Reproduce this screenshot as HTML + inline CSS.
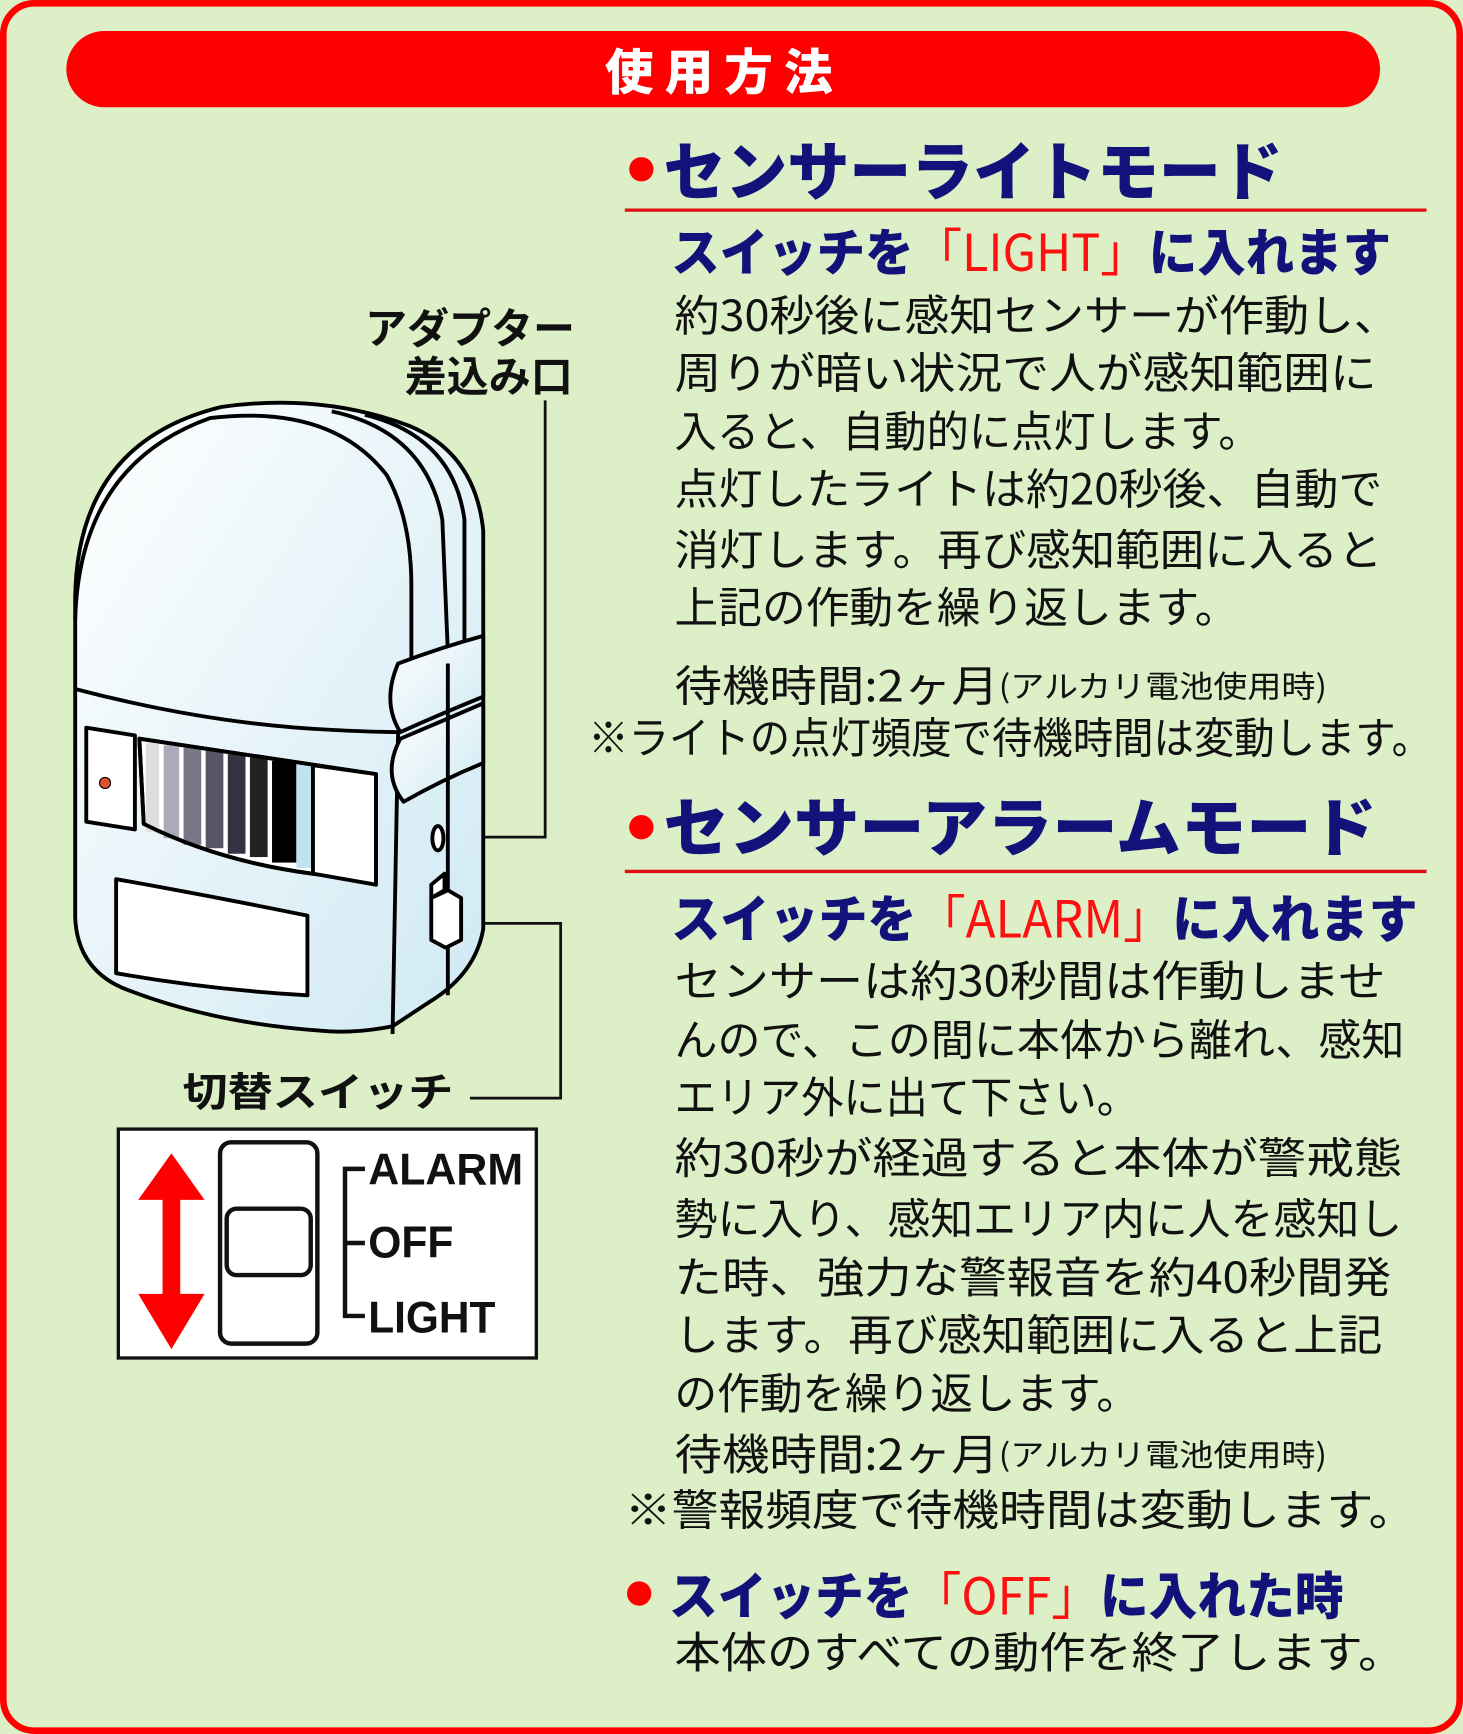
<!DOCTYPE html>
<html><head><meta charset="utf-8"><style>
html,body{margin:0;padding:0;background:#dcefc6;}
svg{display:block}
text{font-family:"Liberation Sans","Noto Sans CJK JP",sans-serif;dominant-baseline:central}
.b{font-family:"Noto Sans CJK JP","Liberation Sans",sans-serif;fill:#111;font-size:39px}
.h{font-family:"Noto Sans CJK JP",sans-serif;font-weight:900;fill:#12127a;font-size:58px}
.s{font-family:"Noto Sans CJK JP",sans-serif;font-weight:900;fill:#12127a;font-size:46px}
.r{fill:#ff1010}
</style></head><body>
<svg width="1463" height="1734" viewBox="0 0 1323 1568" xmlns="http://www.w3.org/2000/svg">
<defs>
<linearGradient id="g" x1="0" y1="0" x2="1" y2="1"><stop offset="0" stop-color="#ffffff"/><stop offset="1" stop-color="#cfe9f3"/></linearGradient>
<linearGradient id="st" x1="0" x2="1"><stop offset="0" stop-color="#fff"/><stop offset="0.5" stop-color="#667"/><stop offset="1" stop-color="#000"/></linearGradient>
</defs>
<rect x="3" y="3" width="1317" height="1562" rx="28" fill="#dcefc6" stroke="#ff0000" stroke-width="6"/>
<rect x="60" y="28" width="1188" height="69" rx="34.5" fill="#ff0000"/>
<text x="655" y="63" text-anchor="middle" style="font-family:'Noto Sans CJK JP',sans-serif;font-weight:900;font-size:44px;fill:#fff;letter-spacing:10px">使用方法</text>

<circle cx="580" cy="153" r="11" fill="#ff0000"/>
<text class="h" x="600" y="152" textLength="560" lengthAdjust="spacingAndGlyphs">センサーライトモード</text>
<line x1="565" y1="190" x2="1290" y2="190" stroke="#e01010" stroke-width="3"/>
<text class="s" x="607" y="225" textLength="651" lengthAdjust="spacingAndGlyphs">スイッチを<tspan class="r" style="font-weight:400">「LIGHT」</tspan>に入れます</text>
<text class="b" x="610" y="283" textLength="655" lengthAdjust="spacingAndGlyphs">約30秒後に感知センサーが作動し、</text>
<text class="b" x="610" y="335" textLength="635" lengthAdjust="spacingAndGlyphs">周りが暗い状況で人が感知範囲に</text>
<text class="b" x="610" y="388" textLength="530" lengthAdjust="spacingAndGlyphs">入ると、自動的に点灯します。</text>
<text class="b" x="610" y="440" textLength="640" lengthAdjust="spacingAndGlyphs">点灯したライトは約20秒後、自動で</text>
<text class="b" x="610" y="495" textLength="640" lengthAdjust="spacingAndGlyphs">消灯します。再び感知範囲に入ると</text>
<text class="b" x="610" y="547" textLength="510" lengthAdjust="spacingAndGlyphs">上記の作動を繰り返します。</text>
<text class="b" x="610" y="618" textLength="590" lengthAdjust="spacingAndGlyphs">待機時間:2ヶ月<tspan style="font-size:28px">(アルカリ電池使用時)</tspan></text>
<text class="b" x="532" y="665" textLength="763" lengthAdjust="spacingAndGlyphs">※ライトの点灯頻度で待機時間は変動します。</text>

<circle cx="580" cy="748" r="11" fill="#ff0000"/>
<text class="h" x="600" y="745" textLength="645" lengthAdjust="spacingAndGlyphs">センサーアラームモード</text>
<line x1="565" y1="788" x2="1290" y2="788" stroke="#e01010" stroke-width="3"/>
<text class="s" x="607" y="828" textLength="675" lengthAdjust="spacingAndGlyphs">スイッチを<tspan class="r" style="font-weight:400">「ALARM」</tspan>に入れます</text>
<text class="b" x="610" y="885" textLength="643" lengthAdjust="spacingAndGlyphs">センサーは約30秒間は作動しませ</text>
<text class="b" x="610" y="938" textLength="660" lengthAdjust="spacingAndGlyphs">んので、この間に本体から離れ、感知</text>
<text class="b" x="610" y="990" textLength="420" lengthAdjust="spacingAndGlyphs">エリア外に出て下さい。</text>
<text class="b" x="610" y="1045" textLength="658" lengthAdjust="spacingAndGlyphs">約30秒が経過すると本体が警戒態</text>
<text class="b" x="610" y="1100" textLength="658" lengthAdjust="spacingAndGlyphs">勢に入り、感知エリア内に人を感知し</text>
<text class="b" x="610" y="1153" textLength="648" lengthAdjust="spacingAndGlyphs">た時、強力な警報音を約40秒間発</text>
<text class="b" x="610" y="1205" textLength="640" lengthAdjust="spacingAndGlyphs">します。再び感知範囲に入ると上記</text>
<text class="b" x="610" y="1258" textLength="420" lengthAdjust="spacingAndGlyphs">の作動を繰り返します。</text>
<text class="b" x="610" y="1313" textLength="590" lengthAdjust="spacingAndGlyphs">待機時間:2ヶ月<tspan style="font-size:28px">(アルカリ電池使用時)</tspan></text>
<text class="b" x="565" y="1363" textLength="715" lengthAdjust="spacingAndGlyphs">※警報頻度で待機時間は変動します。</text>

<circle cx="578" cy="1441" r="11" fill="#ff0000"/>
<text class="s" x="605" y="1440" textLength="610" lengthAdjust="spacingAndGlyphs">スイッチを<tspan class="r" style="font-weight:400">「OFF」</tspan>に入れた時</text>
<text class="b" x="610" y="1492" textLength="660" lengthAdjust="spacingAndGlyphs">本体のすべての動作を終了します。</text>

<!-- labels -->
<text x="520" y="295" text-anchor="end" style="font-family:'Noto Sans CJK JP',sans-serif;font-weight:700;font-size:38px;fill:#111">アダプター</text>
<text x="518" y="338" text-anchor="end" style="font-family:'Noto Sans CJK JP',sans-serif;font-weight:700;font-size:38px;fill:#111">差込み口</text>
<text x="165" y="985" style="font-family:'Noto Sans CJK JP',sans-serif;font-weight:700;font-size:36px;fill:#111" textLength="245" lengthAdjust="spacingAndGlyphs">切替スイッチ</text>
<polyline points="493,362 493,757 400,757" fill="none" stroke="#111" stroke-width="2.5"/>
<polyline points="420,835 507,835 507,993 425,993" fill="none" stroke="#111" stroke-width="2.5"/>

<!-- device -->
<g stroke="#000" stroke-width="3.5" fill="url(#g)" stroke-linejoin="round">
<path d="M68,540 Q70,400 200,368 Q290,355 370,385 Q430,410 437,480 L437,840 Q430,880 390,905 L355,928 Q320,935 290,932 Q190,925 110,893 Q70,875 68,830 Z"/>
<path d="M68,560 Q72,420 190,378 Q300,365 350,430 Q372,470 372,530 L372,640" fill="none"/>
<path d="M300,372 Q385,390 400,470 L405,590" fill="none"/>
<path d="M330,375 Q410,395 420,470 L420,580" fill="none"/>
<path d="M68,623 Q190,655 300,660 Q340,662 360,662 L355,935" fill="none"/>
<path d="M360,600 Q400,585 437,575 L437,630 Q400,645 362,662 Q345,635 360,600 Z"/>
<path d="M362,668 Q400,652 437,636 L437,690 Q400,705 365,725 Q345,700 362,668 Z"/>
<line x1="405" y1="600" x2="405" y2="900" fill="none"/>
<path d="M78,658 L122,665 L122,750 L78,743 Z" fill="#fff"/>
<path d="M126,668 L340,700 L340,795 Q220,790 130,745 Z" fill="#fff"/>
<g stroke-width="0">
<rect x="132" y="672" width="12" height="80" fill="#ddd"/><rect x="148" y="674" width="14" height="84" fill="#aab"/>
<rect x="166" y="676" width="16" height="88" fill="#778"/><rect x="186" y="679" width="16" height="88" fill="#556"/>
<rect x="206" y="682" width="16" height="90" fill="#334"/><rect x="226" y="685" width="16" height="90" fill="#222"/>
<rect x="246" y="688" width="22" height="92" fill="#000"/><rect x="268" y="690" width="15" height="95" fill="#bfe3ef"/>
</g>
<path d="M126,668 L340,700 L340,795 Q220,790 130,745 Z" fill="none"/>
<path d="M283,692 L340,700 L340,800 L283,790 Z" fill="#fff"/>
<path d="M105,795 Q190,810 278,828 L278,900 Q190,895 105,880 Z" fill="#fff"/>
<ellipse cx="396" cy="758" rx="5" ry="11" fill="#fff"/>
<path d="M390,800 L402,790 L402,805 L390,812 Z" fill="#fff"/>
<path d="M390,812 L405,805 L417,812 L417,850 L403,857 L390,850 Z" fill="#fff"/>
</g>
<circle cx="95" cy="708" r="5" fill="#e05030" stroke="#000" stroke-width="1"/>

<!-- switch box -->
<rect x="107" y="1021" width="378" height="207" fill="#fff" stroke="#111" stroke-width="3"/>
<path d="M155,1043 L185,1085 L163,1085 L163,1170 L185,1170 L155,1220 L125,1170 L147,1170 L147,1085 L125,1085 Z" fill="#ff0000"/>
<rect x="199" y="1033" width="88" height="182" rx="10" fill="#fff" stroke="#111" stroke-width="4"/>
<rect x="205" y="1093" width="76" height="60" rx="9" fill="#fff" stroke="#111" stroke-width="4"/>
<polyline points="330,1057 312,1057 312,1190 330,1190" fill="none" stroke="#111" stroke-width="4"/>
<line x1="312" y1="1124" x2="330" y2="1124" stroke="#111" stroke-width="4"/>
<g style="font-family:'Liberation Sans',sans-serif;font-weight:700;font-size:40px;fill:#111">
<text x="333" y="1058" textLength="140" lengthAdjust="spacingAndGlyphs">ALARM</text>
<text x="333" y="1124" textLength="77" lengthAdjust="spacingAndGlyphs">OFF</text>
<text x="333" y="1192" textLength="115" lengthAdjust="spacingAndGlyphs">LIGHT</text>
</g>
</svg>
</body></html>
